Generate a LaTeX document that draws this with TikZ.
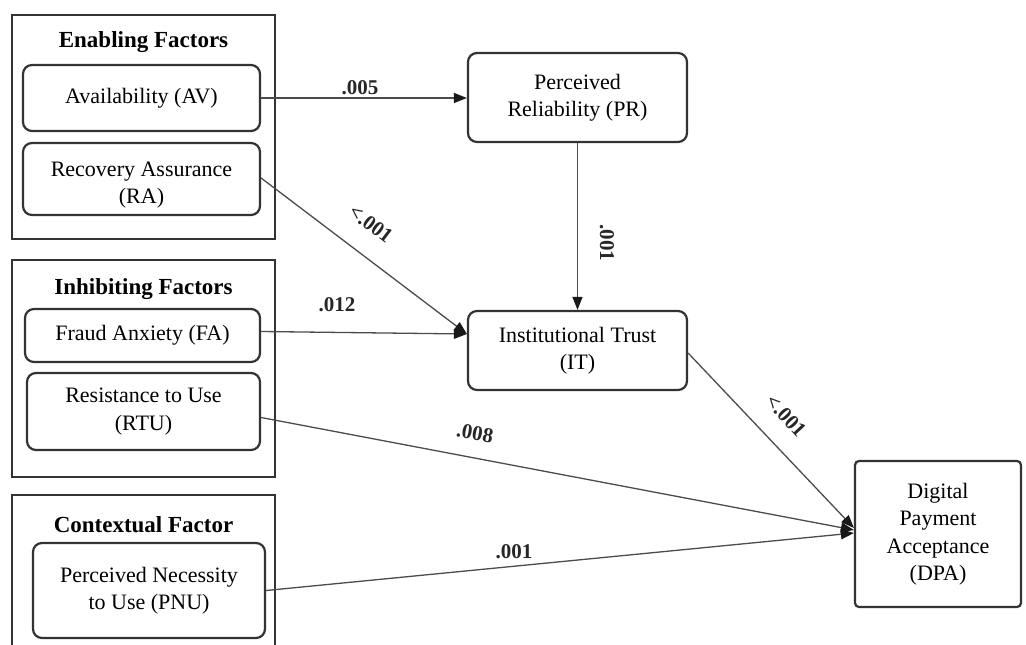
\documentclass[tikz,border=0pt]{standalone}
\usepackage{fontspec}
\setmainfont{Liberation Serif}
\usetikzlibrary{arrows.meta}
\begin{document}
\begin{tikzpicture}[x=1pt,y=-1pt,
  grp/.style={draw=black!80, line width=1.8pt, inner sep=0pt},
  var/.style={draw=black!80, line width=2.2pt, rounded corners=9pt, align=center,
    font=\fontsize{22}{27.5}\selectfont, inner sep=0pt},
  txt/.style={align=center, font=\fontsize{22}{27.5}\selectfont, inner sep=0pt},
  ttl/.style={font=\fontsize{23}{28}\selectfont\bfseries, inner sep=0pt},
  lbl/.style={font=\fontsize{21}{24}\selectfont\bfseries, inner sep=0pt, text=black!85},
  arr/.style={draw=black!70, line width=1.3pt, -{Triangle[length=13pt,width=10pt,color=black!90]}},
]
\useasboundingbox (0,0) rectangle (1026,645);
\fill[white] (0,0) rectangle (1026,645);

% group frames
\node[grp, minimum width=263pt, minimum height=224pt] (EF) at (143.5,127) {};
\node[grp, minimum width=263pt, minimum height=217pt] (IF) at (143.5,368.5) {};
\node[grp, minimum width=263pt, minimum height=170pt] (CF) at (143.5,580) {};

\node[ttl] (EFt) at (143.5,42) {Enabling Factors};
\node[ttl] (IFt) at (143.5,289) {Inhibiting Factors};
\node[ttl] (CFt) at (143.5,525) {Contextual Factor};

% variables
\node[var, minimum width=237pt, minimum height=66pt] (AV) at (141.5,98) {Availability (AV)};
\node[var, minimum width=237pt, minimum height=72pt] (RA) at (141.5,179) {};
\node[txt] (RAt) at (141.5,185) {Recovery Assurance\\(RA)};
\node[var, minimum width=235pt, minimum height=53pt] (FA) at (142.5,335.5) {Fraud Anxiety (FA)};
\node[var, minimum width=233pt, minimum height=77pt] (RTU) at (143.5,411.5) {Resistance to Use\\(RTU)};
\node[var, minimum width=232pt, minimum height=95pt] (PNU) at (149,590.5) {Perceived Necessity\\to Use (PNU)};

\node[var, minimum width=219pt, minimum height=89pt] (PR) at (577.5,97.5) {Perceived\\Reliability (PR)};
\node[var, minimum width=219pt, minimum height=79pt] (IT) at (577.5,350.5) {Institutional Trust\\(IT)};
\node[var, rounded corners=4pt, minimum width=166pt, minimum height=146pt] (DPA) at (938,534) {Digital\\Payment\\Acceptance\\(DPA)};

% connector end points
\coordinate (ITin) at ([yshift=16.5pt]IT.west);
\coordinate (DPAa) at ([yshift=6pt]DPA.west);
\coordinate (DPAb) at ([yshift=4pt]DPA.west);
\coordinate (DPAc) at ([yshift=1pt]DPA.west);
\coordinate (RTUout) at ([yshift=-6pt]RTU.east);
\coordinate (ITout) at ([yshift=-2.5pt]IT.east);

% connectors
\draw[arr] (AV.east) -- (AV.east -| PR.west);
\draw[arr] ([yshift=1pt]RA.east) -- (ITin);
\draw[arr] ([yshift=4pt]FA.east) -- (ITin);
\draw[arr] (PR.south) -- (IT.north);
\draw[arr] (ITout) -- (DPAa);
\draw[arr] (RTUout) -- (DPAb);
\draw[arr] (PNU.east) -- (DPAc);

% labels
\node[lbl] (L1) at (360,88) {.005};
\node[lbl, rotate=-37] (L2) at (371,224) {\textless{}.001};
\node[lbl, rotate=-90] (L3) at (607,243) {.001};
\node[lbl] (L4) at (337,305) {.012};
\node[lbl, rotate=-10] (L5) at (475,433) {.008};
\node[lbl, rotate=-47] (L6) at (786,416) {\textless{}.001};
\node[lbl] (L7) at (514,552) {.001};
\end{tikzpicture}
\end{document}
